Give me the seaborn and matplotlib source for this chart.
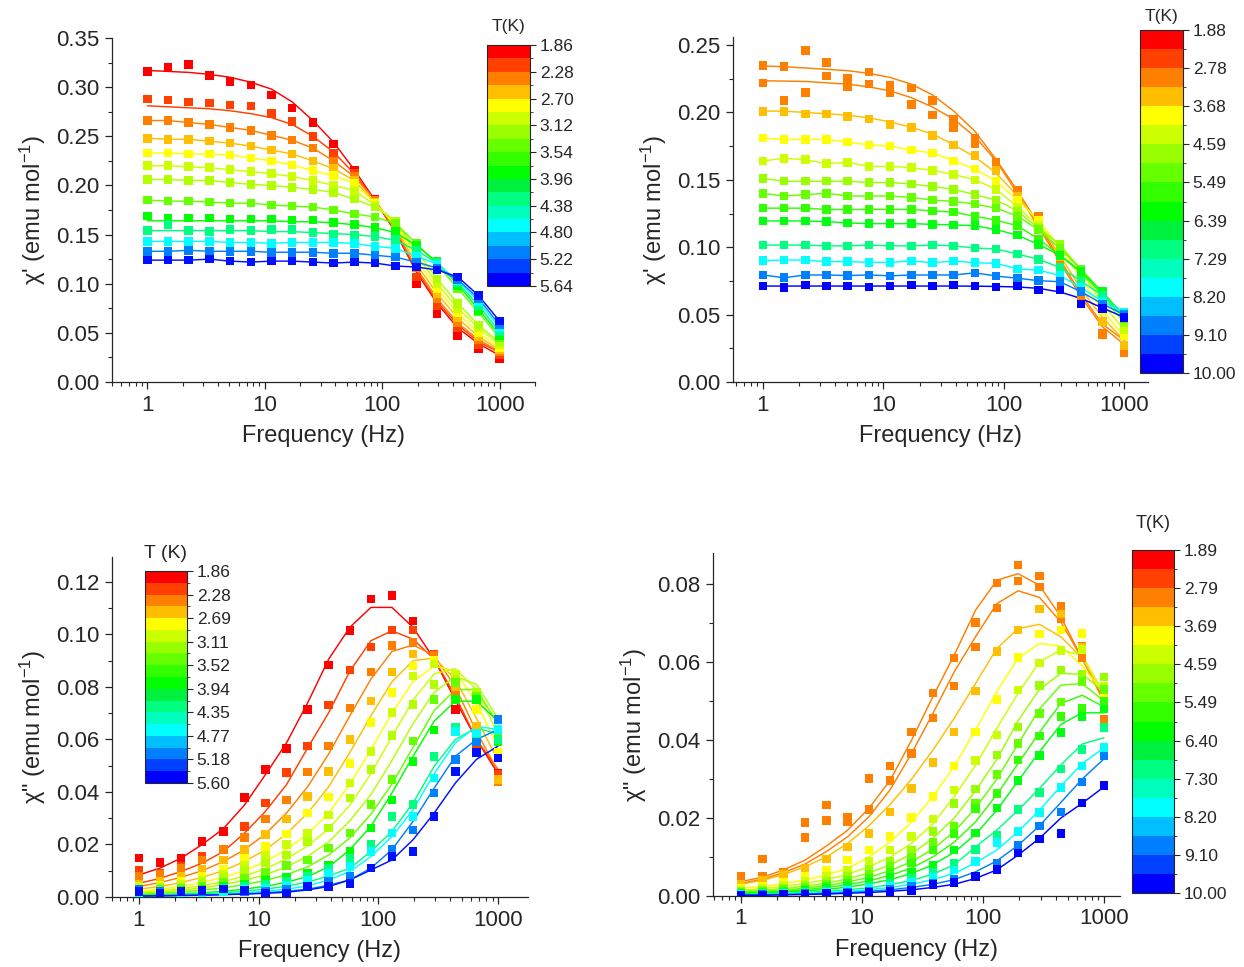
import matplotlib
matplotlib.use("Agg")
import matplotlib.pyplot as plt
import numpy as np
import pandas as pd
import seaborn as sns
from matplotlib.colors import ListedColormap, BoundaryNorm
from matplotlib.ticker import FixedLocator, FixedFormatter, LogLocator, NullFormatter, AutoMinorLocator, FormatStrFormatter
import matplotlib.colorbar as mcolorbar


# frequencies (Hz), same for every curve
freq = [1.0, 1.5, 2.25, 3.38, 5.07, 7.61, 11.4, 17.1, 25.7, 38.5, 57.8, 86.7, 130, 195, 293, 440, 660, 1000]

# colour blocks of the T scale, top (cold) -> bottom (hot)
scale_colors = ["#ff0000", "#ff4000", "#ff8000", "#ffbf00", "#ffff00", "#ccff00", "#99ff00", "#66ff00", "#33ff00",
                "#00ff00", "#00f040", "#00ff80", "#00ffbf", "#00ffff", "#00bfff", "#0080ff", "#0040ff", "#0000ff"]

# colorbar tick labels, top -> bottom
cbar_a = ["1.86", "2.28", "2.70", "3.12", "3.54", "3.96", "4.38", "4.80", "5.22", "5.64"]
cbar_b = ["1.88", "2.78", "3.68", "4.59", "5.49", "6.39", "7.29", "8.20", "9.10", "10.00"]
cbar_c = ["1.86", "2.28", "2.69", "3.11", "3.52", "3.94", "4.35", "4.77", "5.18", "5.60"]
cbar_d = ["1.89", "2.79", "3.69", "4.59", "5.49", "6.40", "7.30", "8.20", "9.10", "10.00"]

colors_ac = ["#ff0000", "#ff4000", "#ff8000", "#ffbf00", "#ffff00", "#ccff00", "#b2ff00", "#66ff00", "#00ff00",
             "#00ff80", "#00ffff", "#0080ff", "#0010ff"]
colors_bd = ["#ff8000", "#ff8000", "#ffbf00", "#ffff00", "#ccff00", "#99ff00", "#66ff00", "#33ff00", "#00ff10",
             "#00ff80", "#00ffff", "#0080ff", "#0000ff"]

# ---- panel a: chi' (1.86 - 5.64 K) ----
a_pts = [
    [0.316, 0.320, 0.323, 0.312, 0.306, 0.302, 0.292, 0.279, 0.264, 0.242, 0.215, 0.186, 0.150, 0.100, 0.069, 0.047, 0.034, 0.024],
    [0.288, 0.287, 0.285, 0.284, 0.282, 0.281, 0.273, 0.265, 0.250, 0.233, 0.212, 0.184, 0.152, 0.107, 0.078, 0.055, 0.038, 0.028],
    [0.266, 0.266, 0.264, 0.262, 0.259, 0.256, 0.251, 0.246, 0.238, 0.225, 0.209, 0.185, 0.155, 0.116, 0.085, 0.060, 0.043, 0.031],
    [0.248, 0.247, 0.247, 0.245, 0.243, 0.240, 0.236, 0.232, 0.225, 0.217, 0.205, 0.183, 0.158, 0.120, 0.090, 0.065, 0.046, 0.033],
    [0.233, 0.233, 0.232, 0.232, 0.231, 0.228, 0.225, 0.221, 0.215, 0.210, 0.202, 0.182, 0.160, 0.125, 0.095, 0.070, 0.050, 0.035],
    [0.220, 0.220, 0.219, 0.218, 0.216, 0.214, 0.212, 0.209, 0.205, 0.200, 0.195, 0.180, 0.163, 0.130, 0.100, 0.075, 0.055, 0.038],
    [0.206, 0.206, 0.205, 0.205, 0.203, 0.201, 0.200, 0.198, 0.196, 0.193, 0.186, 0.178, 0.164, 0.134, 0.105, 0.080, 0.058, 0.040],
    [0.185, 0.184, 0.184, 0.183, 0.182, 0.182, 0.180, 0.179, 0.178, 0.175, 0.171, 0.168, 0.161, 0.141, 0.120, 0.095, 0.071, 0.045],
    [0.169, 0.167, 0.167, 0.167, 0.166, 0.166, 0.166, 0.165, 0.165, 0.162, 0.160, 0.157, 0.153, 0.139, 0.123, 0.098, 0.073, 0.047],
    [0.154, 0.160, 0.154, 0.153, 0.155, 0.154, 0.155, 0.155, 0.152, 0.150, 0.149, 0.148, 0.145, 0.134, 0.122, 0.101, 0.078, 0.051],
    [0.143, 0.143, 0.143, 0.143, 0.142, 0.142, 0.141, 0.142, 0.142, 0.142, 0.141, 0.138, 0.136, 0.128, 0.120, 0.103, 0.082, 0.055],
    [0.133, 0.133, 0.134, 0.133, 0.133, 0.133, 0.132, 0.132, 0.132, 0.131, 0.131, 0.129, 0.127, 0.122, 0.116, 0.104, 0.085, 0.058],
    [0.124, 0.124, 0.124, 0.125, 0.123, 0.122, 0.123, 0.123, 0.122, 0.121, 0.122, 0.121, 0.118, 0.117, 0.114, 0.107, 0.088, 0.062],
]
a_fit = {
    0: [0.317, 0.316, 0.315, 0.313, 0.310, 0.305, 0.298, 0.285, 0.266, 0.244, 0.216, 0.185, 0.152, 0.112, 0.080, 0.055, 0.039, 0.027],
    1: [0.281, 0.280, 0.279, 0.278, 0.276, 0.273, 0.269, 0.262, 0.250, 0.234, 0.212, 0.185, 0.153, 0.114, 0.082, 0.058, 0.041, 0.030],
    8: [0.164, 0.164, 0.164, 0.164, 0.164, 0.164, 0.164, 0.163, 0.163, 0.162, 0.160, 0.157, 0.152, 0.139, 0.122, 0.099, 0.074, 0.048],
    9: [0.154, 0.154, 0.154, 0.154, 0.154, 0.154, 0.153, 0.153, 0.152, 0.151, 0.150, 0.148, 0.144, 0.134, 0.121, 0.101, 0.078, 0.051],
}

# ---- panel b: chi' (1.88 - 10.00 K) ----
b_pts = [
    [0.235, 0.234, 0.246, 0.237, 0.225, 0.230, 0.220, 0.218, 0.209, 0.195, 0.181, 0.163, 0.142, 0.123, 0.088, 0.066, 0.036, 0.025],
    [0.222, 0.209, 0.215, 0.227, 0.219, 0.221, 0.215, 0.206, 0.198, 0.189, 0.177, 0.162, 0.140, 0.118, 0.085, 0.060, 0.035, 0.022],
    [0.2006, 0.2006, 0.199, 0.199, 0.197, 0.195, 0.191, 0.189, 0.183, 0.176, 0.168, 0.157, 0.138, 0.119, 0.093, 0.067, 0.045, 0.027],
    [0.181, 0.180, 0.180, 0.180, 0.178, 0.176, 0.175, 0.172, 0.170, 0.164, 0.158, 0.149, 0.135, 0.120, 0.100, 0.077, 0.053, 0.034],
    [0.164, 0.166, 0.165, 0.162, 0.163, 0.160, 0.160, 0.159, 0.157, 0.154, 0.150, 0.143, 0.130, 0.116, 0.101, 0.082, 0.058, 0.039],
    [0.151, 0.149, 0.149, 0.149, 0.149, 0.148, 0.148, 0.147, 0.145, 0.143, 0.139, 0.135, 0.127, 0.114, 0.102, 0.083, 0.063, 0.044],
    [0.140, 0.138, 0.139, 0.140, 0.138, 0.138, 0.138, 0.137, 0.135, 0.134, 0.132, 0.129, 0.123, 0.113, 0.099, 0.084, 0.066, 0.047],
    [0.129, 0.129, 0.129, 0.128, 0.128, 0.128, 0.128, 0.128, 0.127, 0.126, 0.123, 0.120, 0.116, 0.106, 0.094, 0.081, 0.065, 0.047],
    [0.1195, 0.1195, 0.1195, 0.119, 0.118, 0.1175, 0.1175, 0.1175, 0.117, 0.1165, 0.116, 0.113, 0.109, 0.102, 0.094, 0.082, 0.067, 0.049],
    [0.1016, 0.1016, 0.1016, 0.101, 0.101, 0.1016, 0.101, 0.101, 0.1016, 0.101, 0.0994, 0.0987, 0.095, 0.091, 0.085, 0.075, 0.064, 0.051],
    [0.0900, 0.0905, 0.0905, 0.0893, 0.0893, 0.0888, 0.0888, 0.0898, 0.0885, 0.0898, 0.0885, 0.0880, 0.0840, 0.0830, 0.0790, 0.0700, 0.0600, 0.0515],
    [0.0794, 0.0774, 0.0794, 0.0794, 0.0790, 0.0794, 0.0788, 0.0794, 0.0794, 0.0794, 0.0810, 0.0786, 0.0770, 0.0752, 0.0744, 0.0670, 0.0580, 0.0500],
    [0.0712, 0.0700, 0.0720, 0.0712, 0.0712, 0.0705, 0.0712, 0.0720, 0.0712, 0.0720, 0.0712, 0.0705, 0.0712, 0.0683, 0.0683, 0.0579, 0.0547, 0.0480],
]
b_fit = {
    0: [0.2345, 0.234, 0.233, 0.232, 0.231, 0.229, 0.226, 0.221, 0.213, 0.201, 0.186, 0.165, 0.142, 0.117, 0.091, 0.065, 0.043, 0.031],
    1: [0.2235, 0.2233, 0.223, 0.222, 0.221, 0.219, 0.216, 0.211, 0.204, 0.195, 0.182, 0.164, 0.140, 0.115, 0.089, 0.063, 0.041, 0.028],
    2: [0.201, 0.201, 0.200, 0.199, 0.198, 0.196, 0.193, 0.189, 0.184, 0.176, 0.167, 0.155, 0.138, 0.118, 0.094, 0.069, 0.048, 0.031],
    12: [0.0712, 0.0712, 0.0712, 0.0712, 0.0712, 0.0712, 0.0712, 0.0712, 0.0712, 0.0712, 0.0711, 0.0709, 0.0705, 0.0695, 0.0668, 0.0620, 0.0550, 0.0480],
}

# ---- panel c: chi'' (1.86 - 5.60 K) ----
c_pts = [
    [0.0148, 0.0131, 0.0148, 0.0211, 0.0250, 0.0380, 0.0485, 0.0566, 0.0715, 0.0883, 0.1014, 0.1135, 0.1148, 0.1052, 0.0905, 0.0715, 0.0550, 0.0470],
    [0.0103, 0.0090, 0.0116, 0.0155, 0.0180, 0.0269, 0.0358, 0.0475, 0.0575, 0.0731, 0.0864, 0.0953, 0.1017, 0.1017, 0.0925, 0.0766, 0.0575, 0.0466],
    [0.0078, 0.0085, 0.0110, 0.0141, 0.0180, 0.0227, 0.0297, 0.0370, 0.0476, 0.0575, 0.0720, 0.0857, 0.0957, 0.0970, 0.0920, 0.0780, 0.0600, 0.0440],
    [0.0050, 0.0060, 0.0080, 0.0105, 0.0141, 0.0180, 0.0237, 0.0297, 0.0383, 0.0479, 0.0600, 0.0747, 0.0857, 0.0925, 0.0900, 0.0800, 0.0650, 0.0447],
    [0.0040, 0.0045, 0.0060, 0.0080, 0.0105, 0.0148, 0.0192, 0.0240, 0.0320, 0.0381, 0.0508, 0.0664, 0.0778, 0.0880, 0.0900, 0.0830, 0.0715, 0.0550],
    [0.0040, 0.0040, 0.0050, 0.0065, 0.0085, 0.0120, 0.0160, 0.0199, 0.0243, 0.0313, 0.0434, 0.0555, 0.0702, 0.0842, 0.0887, 0.0850, 0.0750, 0.0600],
    [0.0030, 0.0035, 0.0040, 0.0055, 0.0075, 0.0100, 0.0129, 0.0160, 0.0211, 0.0262, 0.0377, 0.0485, 0.0615, 0.0734, 0.0810, 0.0830, 0.0780, 0.0640],
    [0.0025, 0.0028, 0.0033, 0.0042, 0.0055, 0.0072, 0.0095, 0.0120, 0.0141, 0.0186, 0.0243, 0.0352, 0.0447, 0.0594, 0.0753, 0.0817, 0.0765, 0.0610],
    [0.0020, 0.0022, 0.0025, 0.0030, 0.0040, 0.0050, 0.0065, 0.0075, 0.0090, 0.0122, 0.0173, 0.0262, 0.0370, 0.0517, 0.0636, 0.0753, 0.0753, 0.0590],
    [0.0015, 0.0018, 0.0020, 0.0025, 0.0032, 0.0040, 0.0050, 0.0060, 0.0080, 0.0110, 0.0148, 0.0199, 0.0307, 0.0352, 0.0536, 0.0645, 0.0600, 0.0600],
    [0.0012, 0.0013, 0.0015, 0.0018, 0.0022, 0.0028, 0.0035, 0.0045, 0.0065, 0.0090, 0.0116, 0.0173, 0.0243, 0.0307, 0.0453, 0.0630, 0.0625, 0.0638],
    [0.0030, 0.0020, 0.0020, 0.0020, 0.0030, 0.0020, 0.0020, 0.0030, 0.0040, 0.0060, 0.0080, 0.0110, 0.0180, 0.0256, 0.0396, 0.0524, 0.0590, 0.0676],
    [0.0020, 0.0015, 0.0020, 0.0025, 0.0030, 0.0025, 0.0015, 0.0014, 0.0040, 0.0040, 0.0052, 0.0110, 0.0154, 0.0173, 0.0307, 0.0479, 0.0550, 0.0530],
]
c_fit = {
    0: [0.0084, 0.0110, 0.0148, 0.0200, 0.0260, 0.0350, 0.0466, 0.0587, 0.0740, 0.0906, 0.1027, 0.1103, 0.1103, 0.1027, 0.0906, 0.0750, 0.0600, 0.0470],
    1: [0.0052, 0.0071, 0.0097, 0.0129, 0.0173, 0.0243, 0.0326, 0.0428, 0.0568, 0.0702, 0.0860, 0.0976, 0.1014, 0.0982, 0.0906, 0.0766, 0.0600, 0.0485],
    2: [0.0040, 0.0055, 0.0075, 0.0100, 0.0135, 0.0180, 0.0240, 0.0320, 0.0420, 0.0545, 0.0690, 0.0830, 0.0935, 0.0960, 0.0920, 0.0800, 0.0630, 0.0480],
    3: [0.0030, 0.0040, 0.0055, 0.0075, 0.0100, 0.0135, 0.0180, 0.0240, 0.0320, 0.0420, 0.0550, 0.0690, 0.0820, 0.0900, 0.0910, 0.0830, 0.0680, 0.0520],
    4: [0.0022, 0.0030, 0.0040, 0.0055, 0.0075, 0.0100, 0.0135, 0.0180, 0.0240, 0.0320, 0.0430, 0.0560, 0.0700, 0.0820, 0.0880, 0.0860, 0.0740, 0.0570],
    5: [0.0018, 0.0024, 0.0032, 0.0043, 0.0058, 0.0080, 0.0108, 0.0145, 0.0195, 0.0260, 0.0350, 0.0470, 0.0610, 0.0750, 0.0850, 0.0870, 0.0790, 0.0620],
    6: [0.0014, 0.0019, 0.0026, 0.0035, 0.0047, 0.0063, 0.0085, 0.0115, 0.0155, 0.0210, 0.0290, 0.0390, 0.0520, 0.0660, 0.0780, 0.0840, 0.0810, 0.0680],
    7: [0.0010, 0.0014, 0.0019, 0.0026, 0.0035, 0.0047, 0.0063, 0.0085, 0.0115, 0.0160, 0.0225, 0.0315, 0.0430, 0.0570, 0.0710, 0.0790, 0.0790, 0.0660],
    8: [0.0007, 0.0009, 0.0012, 0.0016, 0.0022, 0.0030, 0.0041, 0.0056, 0.0078, 0.0115, 0.0180, 0.0269, 0.0396, 0.0536, 0.0670, 0.0746, 0.0746, 0.0670],
    9: [0.0005, 0.0007, 0.0009, 0.0012, 0.0016, 0.0022, 0.0030, 0.0041, 0.0057, 0.0080, 0.0110, 0.0173, 0.0250, 0.0358, 0.0498, 0.0600, 0.0645, 0.0620],
    10: [0.0004, 0.0005, 0.0007, 0.0009, 0.0012, 0.0016, 0.0022, 0.0030, 0.0042, 0.0065, 0.0097, 0.0154, 0.0230, 0.0332, 0.0470, 0.0587, 0.0650, 0.0638],
    11: [0.0003, 0.0004, 0.0005, 0.0007, 0.0009, 0.0012, 0.0016, 0.0022, 0.0030, 0.0045, 0.0065, 0.0110, 0.0180, 0.0288, 0.0415, 0.0536, 0.0600, 0.0638],
    12: [0.0004, 0.0005, 0.0006, 0.0007, 0.0009, 0.0011, 0.0014, 0.0018, 0.0027, 0.0040, 0.0065, 0.0103, 0.0141, 0.0218, 0.0320, 0.0434, 0.0524, 0.0575],
}

# ---- panel d: chi'' (1.89 - 10.00 K) ----
d_pts = [
    [0.0050, 0.0095, 0.0062, 0.0188, 0.0233, 0.0203, 0.0301, 0.0334, 0.0421, 0.0521, 0.0611, 0.0701, 0.0803, 0.0849, 0.0821, 0.0744, 0.0641, 0.0494],
    [0.0050, 0.0050, 0.0058, 0.0150, 0.0193, 0.0191, 0.0222, 0.0296, 0.0366, 0.0457, 0.0539, 0.0639, 0.0739, 0.0808, 0.0793, 0.0712, 0.0611, 0.0454],
    [0.0030, 0.0040, 0.0055, 0.0070, 0.0095, 0.0126, 0.0161, 0.0216, 0.0276, 0.0342, 0.0421, 0.0526, 0.0628, 0.0682, 0.0736, 0.0723, 0.0639, 0.0500],
    [0.0020, 0.0025, 0.0035, 0.0050, 0.0065, 0.0092, 0.0118, 0.0152, 0.0201, 0.0255, 0.0334, 0.0421, 0.0504, 0.0612, 0.0672, 0.0682, 0.0673, 0.0511],
    [0.0015, 0.0020, 0.0028, 0.0038, 0.0050, 0.0065, 0.0088, 0.0118, 0.0152, 0.0197, 0.0272, 0.0347, 0.0413, 0.0528, 0.0598, 0.0630, 0.0632, 0.0537],
    [0.0012, 0.0015, 0.0020, 0.0028, 0.0038, 0.0050, 0.0068, 0.0090, 0.0118, 0.0165, 0.0238, 0.0274, 0.0362, 0.0434, 0.0540, 0.0580, 0.0570, 0.0562],
    [0.0010, 0.0012, 0.0016, 0.0022, 0.0030, 0.0040, 0.0055, 0.0075, 0.0100, 0.0139, 0.0180, 0.0238, 0.0312, 0.0391, 0.0468, 0.0498, 0.0550, 0.0530],
    [0.0008, 0.0010, 0.0013, 0.0018, 0.0025, 0.0033, 0.0045, 0.0062, 0.0085, 0.0118, 0.0161, 0.0225, 0.0263, 0.0349, 0.0411, 0.0460, 0.0481, 0.0500],
    [0.0006, 0.0008, 0.0010, 0.0014, 0.0019, 0.0026, 0.0035, 0.0048, 0.0062, 0.0080, 0.0118, 0.0162, 0.0226, 0.0297, 0.0360, 0.0420, 0.0460, 0.0480],
    [0.0005, 0.0006, 0.0008, 0.0010, 0.0013, 0.0018, 0.0024, 0.0032, 0.0045, 0.0060, 0.0085, 0.0120, 0.0156, 0.0222, 0.0265, 0.0326, 0.0376, 0.0432],
    [0.0004, 0.0005, 0.0006, 0.0008, 0.0010, 0.0014, 0.0019, 0.0025, 0.0035, 0.0048, 0.0067, 0.0088, 0.0137, 0.0165, 0.0214, 0.0279, 0.0334, 0.0381],
    [0.0003, 0.0004, 0.0005, 0.0006, 0.0008, 0.0010, 0.0013, 0.0018, 0.0024, 0.0032, 0.0042, 0.0050, 0.0084, 0.0129, 0.0180, 0.0216, 0.0293, 0.0359],
    [0.0002, 0.0003, 0.0004, 0.0005, 0.0006, 0.0007, 0.0009, 0.0011, 0.0014, 0.0030, 0.0034, 0.0050, 0.0068, 0.0110, 0.0146, 0.0160, 0.0239, 0.0283],
]
d_fit = {
    0: [0.0037, 0.0048, 0.0067, 0.0092, 0.0128, 0.0169, 0.0225, 0.0297, 0.0400, 0.0511, 0.0618, 0.0733, 0.0810, 0.0827, 0.0797, 0.0716, 0.0609, 0.0498],
    1: [0.0032, 0.0043, 0.0060, 0.0082, 0.0114, 0.0152, 0.0203, 0.0273, 0.0366, 0.0468, 0.0575, 0.0665, 0.0750, 0.0783, 0.0766, 0.0703, 0.0609, 0.0503],
    2: [0.0030, 0.0040, 0.0055, 0.0075, 0.0100, 0.0135, 0.0180, 0.0235, 0.0300, 0.0374, 0.0456, 0.0545, 0.0635, 0.0686, 0.0697, 0.0665, 0.0610, 0.0511],
    3: [0.0020, 0.0024, 0.0032, 0.0041, 0.0054, 0.0071, 0.0100, 0.0139, 0.0190, 0.0255, 0.0332, 0.0426, 0.0524, 0.0610, 0.0648, 0.0641, 0.0590, 0.0520],
    4: [0.0015, 0.0019, 0.0025, 0.0032, 0.0042, 0.0056, 0.0075, 0.0100, 0.0135, 0.0185, 0.0255, 0.0335, 0.0430, 0.0520, 0.0601, 0.0631, 0.0618, 0.0520],
    5: [0.0012, 0.0015, 0.0019, 0.0025, 0.0033, 0.0044, 0.0059, 0.0080, 0.0108, 0.0148, 0.0200, 0.0270, 0.0350, 0.0450, 0.0530, 0.0571, 0.0569, 0.0524],
    6: [0.0010, 0.0012, 0.0015, 0.0020, 0.0027, 0.0036, 0.0048, 0.0065, 0.0088, 0.0120, 0.0165, 0.0225, 0.0300, 0.0390, 0.0480, 0.0541, 0.0545, 0.0500],
    7: [0.0008, 0.0010, 0.0012, 0.0016, 0.0022, 0.0029, 0.0039, 0.0053, 0.0072, 0.0100, 0.0138, 0.0190, 0.0260, 0.0340, 0.0420, 0.0494, 0.0515, 0.0485],
    8: [0.0006, 0.0008, 0.0010, 0.0013, 0.0017, 0.0023, 0.0031, 0.0042, 0.0058, 0.0080, 0.0112, 0.0158, 0.0220, 0.0295, 0.0370, 0.0440, 0.0470, 0.0470],
    9: [0.0004, 0.0005, 0.0007, 0.0009, 0.0012, 0.0016, 0.0021, 0.0029, 0.0040, 0.0056, 0.0080, 0.0126, 0.0169, 0.0220, 0.0276, 0.0336, 0.0390, 0.0406],
    10: [0.0003, 0.0004, 0.0005, 0.0007, 0.0009, 0.0012, 0.0016, 0.0022, 0.0030, 0.0042, 0.0058, 0.0085, 0.0118, 0.0165, 0.0220, 0.0282, 0.0340, 0.0380],
    11: [0.0002, 0.0003, 0.0004, 0.0005, 0.0007, 0.0009, 0.0012, 0.0016, 0.0022, 0.0030, 0.0042, 0.0062, 0.0090, 0.0130, 0.0180, 0.0240, 0.0300, 0.0352],
    12: [0.0002, 0.0002, 0.0003, 0.0004, 0.0005, 0.0007, 0.0009, 0.0012, 0.0016, 0.0022, 0.0030, 0.0045, 0.0067, 0.0105, 0.0148, 0.0200, 0.0238, 0.0280],
}


sns.set_style("ticks")
plt.rcParams["font.family"] = ["Liberation Sans", "DejaVu Sans"]
plt.rcParams["mathtext.default"] = "regular"
plt.rcParams["axes.linewidth"] = 0.9

W, H = 1244, 967
fig = plt.figure(figsize=(W / 100, H / 100), dpi=100)


def px_axes(l, t, r, b):
    return fig.add_axes([l / W, 1 - b / H, (r - l) / W, (b - t) / H])


def long_table(rows):
    recs = []
    for i, row in enumerate(rows):
        for f, v in zip(freq, row):
            recs.append((i, f, v))
    return pd.DataFrame(recs, columns=["series", "freq", "chi"])


def draw_panel(box, pts, fits, colors, xlim, ylim, ystep, ylabel):
    ax = px_axes(*box)
    pal = {i: c for i, c in enumerate(colors)}
    fit_rows = [fits.get(i, row) for i, row in enumerate(pts)]
    sns.lineplot(data=long_table(fit_rows), x="freq", y="chi", hue="series", palette=pal,
                 estimator=None, sort=True, legend=False, linewidth=1.05, ax=ax)
    sns.scatterplot(data=long_table(pts), x="freq", y="chi", hue="series", palette=pal,
                    marker="s", s=38, linewidth=0, legend=False, ax=ax, zorder=3)
    ax.set_xscale("log")
    ax.set_xlim(*xlim)
    ax.set_ylim(*ylim)
    ax.xaxis.set_major_locator(FixedLocator([1, 10, 100, 1000]))
    ax.xaxis.set_major_formatter(FixedFormatter(["1", "10", "100", "1000"]))
    ax.xaxis.set_minor_locator(LogLocator(base=10, subs=np.arange(2, 10)))
    ax.xaxis.set_minor_formatter(NullFormatter())
    ax.yaxis.set_major_locator(FixedLocator(np.arange(0, ylim[1] + 1e-9, ystep)))
    ax.yaxis.set_major_formatter(FormatStrFormatter("%.2f"))
    ax.yaxis.set_minor_locator(AutoMinorLocator(2))
    ax.tick_params(which="major", direction="out", length=5, width=0.9, labelsize=16, pad=4)
    ax.tick_params(which="minor", direction="out", length=3, width=0.8)
    sns.despine(ax=ax)
    ax.set_xlabel("Frequency (Hz)", fontsize=17, labelpad=7)
    ax.set_ylabel(ylabel, fontsize=17, labelpad=6)
    ax.patch.set_alpha(0)
    return ax


def draw_cbar(box, labels, title, title_y, title_size=12.5):
    cax = px_axes(*box)
    cmap = ListedColormap(scale_colors[::-1])
    norm = BoundaryNorm(np.arange(19), 18)
    cb = mcolorbar.ColorbarBase(cax, cmap=cmap, norm=norm, orientation="vertical",
                                ticks=np.arange(0, 19, 2))
    cb.set_ticklabels(labels[::-1])
    cb.outline.set_linewidth(0.8)
    cax.tick_params(direction="out", length=4, width=0.8, labelsize=12.5, pad=3)
    cx = (box[0] + box[2]) / 2
    fig.text(cx / W, 1 - title_y / H, title, ha="center", va="center", fontsize=title_size)
    return cb


ylab1 = "χ' (emu mol$^{-1}$)"
ylab2 = 'χ" (emu mol$^{-1}$)'

draw_panel((112, 38, 535, 382), a_pts, a_fit, colors_ac, (0.5, 2000), (0, 0.35), 0.05, ylab1)
draw_panel((733, 37, 1148, 382), b_pts, b_fit, colors_bd, (0.565, 1580), (0, 0.256), 0.05, ylab1)
draw_panel((112, 557, 528, 897), c_pts, c_fit, colors_ac, (0.596, 1780), (0, 0.1295), 0.02, ylab2)
draw_panel((713, 553, 1120, 896), d_pts, d_fit, colors_bd, (0.587, 1356), (0, 0.088), 0.02, ylab2)

draw_cbar((487, 45, 530, 286), cbar_a, "T(K)", 27)
draw_cbar((1140, 30, 1183, 373), cbar_b, "T(K)", 16)
draw_cbar((145, 571, 187, 783), cbar_c, "T (K)", 553, title_size=14)
draw_cbar((1132, 550, 1174, 893), cbar_d, "T(K)", 523, title_size=13)

fig.savefig("out.png", dpi=100)
